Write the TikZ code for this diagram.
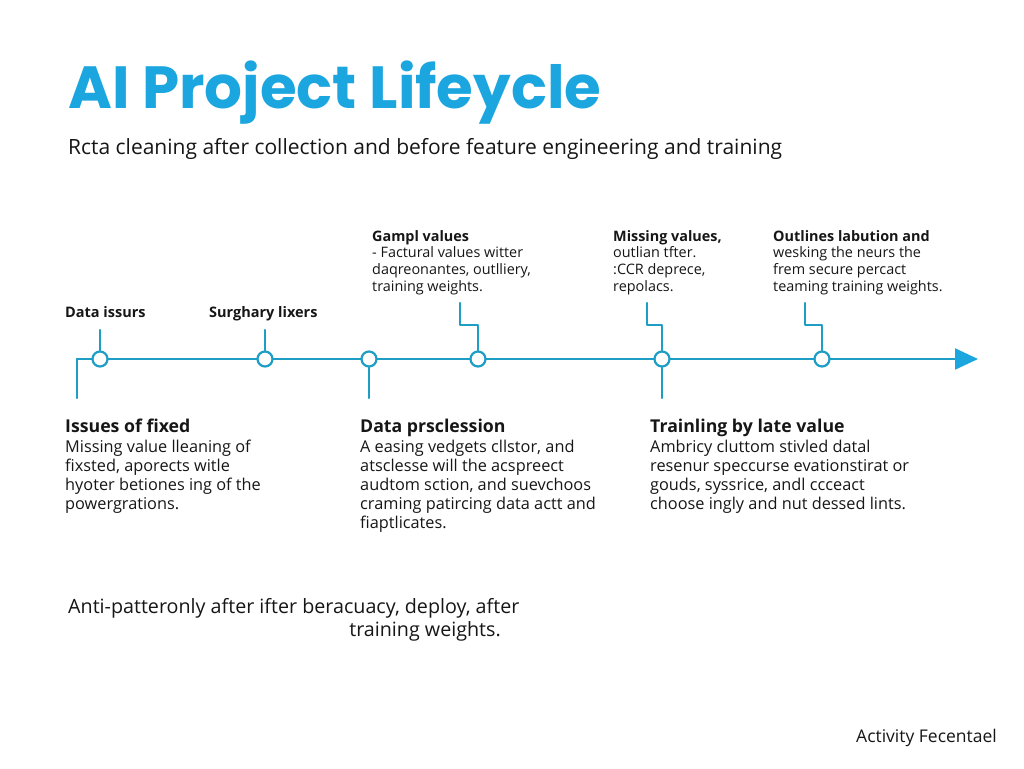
\documentclass[tikz,border=0pt]{standalone}
\usepackage{fontspec}
\setmainfont{Open Sans}
\newfontfamily\titlefont{Poppins}
\usetikzlibrary{arrows.meta,positioning}
\definecolor{lineteal}{HTML}{1E9EC5}
\definecolor{titleblue}{HTML}{1BA6DF}
\definecolor{inkgrey}{HTML}{161616}

\begin{document}
\begin{tikzpicture}[x=1pt,y=-1pt,line cap=round,line join=round,
  dot/.style={circle,draw=lineteal,line width=2.2pt,fill=white,minimum size=15pt,inner sep=0pt},
  wire/.style={draw=lineteal,line width=2.2pt},
  tag/.style={anchor=base west,inner sep=0pt,text=inkgrey,font=\fontsize{14.5}{17}\selectfont\bfseries},
  note/.style={anchor=north west,align=left,inner sep=0pt,text=inkgrey,font=\fontsize{14.4}{16.8}\selectfont},
  headline/.style={anchor=base west,inner sep=0pt,text=inkgrey,font=\fontsize{17.7}{20}\selectfont\bfseries},
  body/.style={anchor=north west,align=left,inner sep=0pt,text=inkgrey,font=\fontsize{16.3}{19}\selectfont}]
\useasboundingbox (0,0) rectangle (1024,768);

% title and subtitle
\node[anchor=base west,inner sep=0pt,text=titleblue,font=\titlefont\fontsize{59.5}{64}\selectfont\bfseries] (title) at (68,108) {AI Project Lifeycle};
\node[anchor=base west,inner sep=0pt,text=inkgrey,font=\fontsize{21}{24}\selectfont] (subtitle) at (68,154) {Rcta cleaning after collection and before feature engineering and training};

% timeline
\coordinate (start) at (77,359);
\coordinate (tip) at (978,359);
\draw[wire,-{Triangle[length=23pt,width=21pt,fill=titleblue,color=titleblue]}] (start) -- (tip);
\node[dot] (c1) at (100,359) {};
\node[dot] (c2) at (265,359) {};
\node[dot] (c3) at (369,359) {};
\node[dot] (c4) at (478,359) {};
\node[dot] (c5) at (662,359) {};
\node[dot] (c6) at (822,359) {};

% connector ends
\coordinate (d0) at (77,398);
\coordinate (u1) at (100,330);
\coordinate (u2) at (265,330);
\coordinate (d3) at (369,398);
\coordinate (k4) at (460,303);
\coordinate (k5) at (647,303);
\coordinate (d5) at (662,398);
\coordinate (k6) at (805,303);

\draw[wire] (start) -- (d0);
\draw[wire] (c1.north) -- (u1);
\draw[wire] (c2.north) -- (u2);
\draw[wire] (c3.south) -- (d3);
\draw[wire] (c4.north) |- (k4 |- 0,325) -- (k4);
\draw[wire] (c5.north) |- (k5 |- 0,325) -- (k5);
\draw[wire] (c5.south) -- (d5);
\draw[wire] (c6.north) |- (k6 |- 0,325) -- (k6);

% labels above the line
\node[tag] (t1) at (65,317) {Data issurs};
\node[tag] (t2) at (209,317) {Surghary lixers};
\node[note] (n4) at (372,230) {\textbf{Gampl values}\\- Factural values witter\\daqreonantes, outlliery,\\training weights.};
\node[note] (n5) at (613,230) {\textbf{Missing values,}\\outlian tfter.\\:CCR deprece,\\repolacs.};
\node[note] (n6) at (773,230) {\textbf{Outlines labution and}\\wesking the neurs the\\frem secure percact\\teaming training weights.};

% blocks below the line
\node[headline] (h1) at (65,432) {Issues of fixed};
\node[body] (b1) at (65,440) {Missing value lleaning of\\fixsted, aporects witle\\hyoter betiones ing of the\\powergrations.};
\node[headline] (h3) at (360,432) {Data prsclession};
\node[body] (b3) at (360,440) {A easing vedgets cllstor, and\\atsclesse will the acspreect\\audtom sction, and suevchoos\\craming patircing data actt and\\fiaptlicates.};
\node[headline] (h5) at (650,432) {Trainling by late value};
\node[body] (b5) at (650,440) {Ambricy cluttom stivled datal\\resenur speccurse evationstirat or\\gouds, syssrice, andl ccceact\\choose ingly and nut dessed lints.};

% footer
\node[anchor=base west,inner sep=0pt,text=inkgrey,font=\fontsize{19.7}{23}\selectfont] (anti) at (68,613) {Anti-patteronly after ifter beracuacy, deploy, after};
\node[anchor=base east,inner sep=0pt,text=inkgrey,font=\fontsize{19.7}{23}\selectfont] (anti2) at (501,636) {training weights.};
\node[anchor=base east,inner sep=0pt,text=inkgrey,font=\fontsize{17.5}{20}\selectfont] (credit) at (997,742) {Activity Fecentael};
\end{tikzpicture}
\end{document}
